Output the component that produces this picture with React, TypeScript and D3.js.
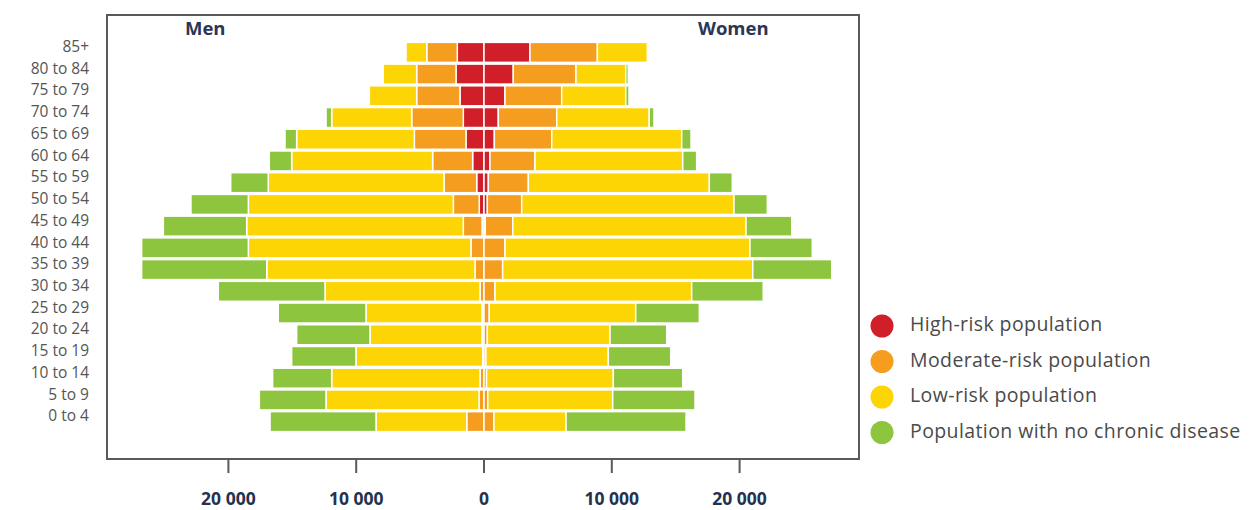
import React from "react";
import * as d3 from "d3";

// Age groups, oldest at the top
const ageGroups = [
  "85+", "80 to 84", "75 to 79", "70 to 74", "65 to 69", "60 to 64",
  "55 to 59", "50 to 54", "45 to 49", "40 to 44", "35 to 39", "30 to 34",
  "25 to 29", "20 to 24", "15 to 19", "10 to 14", "5 to 9", "0 to 4",
];

// Men, by risk category (persons)
const menHigh = [2090, 2190, 1880, 1620, 1410, 890, 570, 370, 150, 0, 0, 0, 0, 0, 0, 0, 0, 0];
const menModerate = [2390, 3080, 3390, 4040, 4040, 3130, 2560, 2030, 1470, 1020, 700, 310, 150, 150, 100, 310, 390, 1350];
const menLow = [1620, 2610, 3700, 6260, 9210, 11030, 13750, 16040, 16950, 17420, 16300, 12130, 9080, 8770, 9920, 11610, 11970, 7100];
const menNone = [0, 0, 0, 440, 910, 1750, 2940, 4490, 6520, 8350, 9790, 8350, 6870, 5740, 5030, 4620, 5220, 8290];

// Women, by risk category (persons)
const womenHigh = [3600, 2290, 1640, 1120, 810, 470, 340, 260, 100, 0, 0, 0, 0, 0, 0, 0, 0, 0];
const womenModerate = [5270, 4910, 4440, 4570, 4490, 3520, 3130, 2690, 2150, 1640, 1460, 860, 410, 260, 150, 200, 300, 780];
const womenLow = [3910, 3890, 5010, 7240, 10170, 11560, 14160, 16610, 18250, 19170, 19570, 15390, 11460, 9600, 9580, 9920, 9770, 5640];
const womenNone = [0, 200, 260, 370, 730, 1090, 1800, 2610, 3580, 4880, 6180, 5600, 4980, 4440, 4880, 5430, 6440, 9390];

const categories = [
  "High-risk population",
  "Moderate-risk population",
  "Low-risk population",
  "Population with no chronic disease",
];
const colors = ["#d01f28", "#f59d1f", "#fdd404", "#8dc53e"];

const tickValues = [-20000, -10000, 0, 10000, 20000];

const W = 1250;
const H = 510;
const box = { left: 107, top: 15, right: 859, bottom: 459 };

const x = d3.scaleLinear().domain([-29500, 29500]).range([107, 861]);
const y = d3
  .scaleBand<string>()
  .domain(ageGroups)
  .range([41.5, 432.5])
  .paddingInner(0.08)
  .paddingOuter(0.04);

const fmt = d3
  .formatLocale({ decimal: ".", thousands: "\u00a0", grouping: [3], currency: ["", ""] })
  .format(",d");

type Seg = { key: string; x0: number; x1: number; y: number; color: string };

function buildSegments(series: number[][], sign: number, side: string): Seg[] {
  const rows = ageGroups.map((_, i) => {
    const o: Record<string, number> = {};
    categories.forEach((c, k) => (o[c] = series[k][i]));
    return o;
  });
  const stacked = d3.stack<Record<string, number>>().keys(categories)(rows);
  const segs: Seg[] = [];
  stacked.forEach((layer, k) => {
    layer.forEach((d, i) => {
      if (d[1] - d[0] <= 0) return;
      const a = x(sign * d[0]);
      const b = x(sign * d[1]);
      segs.push({
        key: `${side}-${k}-${i}`,
        x0: Math.min(a, b),
        x1: Math.max(a, b),
        y: y(ageGroups[i]) as number,
        color: colors[k],
      });
    });
  });
  return segs;
}

const segments = [
  ...buildSegments([menHigh, menModerate, menLow, menNone], -1, "m"),
  ...buildSegments([womenHigh, womenModerate, womenLow, womenNone], 1, "w"),
];

const font = "'Open Sans', 'DejaVu Sans', sans-serif";

export default function App() {
  const bw = y.bandwidth();
  return (
    <svg
      width={W}
      height={H}
      style={{ position: "absolute", left: 0, top: 0, display: "block", background: "#fff" }}
    >
      {/* frame */}
      <rect
        x={box.left}
        y={box.top}
        width={box.right - box.left}
        height={box.bottom - box.top}
        fill="none"
        stroke="#5a5a5a"
        strokeWidth={2}
      />

      {/* bars */}
      <g>
        {segments.map((s) => (
          <rect
            key={s.key}
            x={s.x0}
            y={s.y}
            width={s.x1 - s.x0}
            height={bw}
            fill={s.color}
            stroke="#ffffff"
            strokeWidth={1.5}
          />
        ))}
      </g>

      {/* age labels */}
      <g fontFamily={font} fontSize={15.5} fill="#555" textAnchor="end">
        {ageGroups.map((a) => (
          <text key={a} x={89} y={(y(a) as number) + bw / 2 - 4.5} dominantBaseline="middle">
            {a}
          </text>
        ))}
      </g>

      {/* x axis ticks */}
      <g>
        {tickValues.map((t) => (
          <g key={t}>
            <line x1={x(t)} x2={x(t)} y1={box.bottom} y2={box.bottom + 14} stroke="#5a5a5a" strokeWidth={2} />
            <text
              x={x(t)}
              y={500}
              textAnchor="middle"
              dominantBaseline="middle"
              fontFamily={font}
              fontWeight={700}
              fontSize={17.5}
              fill="#25314f"
            >
              {fmt(Math.abs(t))}
            </text>
          </g>
        ))}
      </g>

      {/* side titles */}
      <g fontFamily={font} fontWeight={700} fontSize={18.5} fill="#2b3657">
        <text x={185} y={30} dominantBaseline="middle">Men</text>
        <text x={698} y={30} dominantBaseline="middle">Women</text>
      </g>

      {/* legend */}
      <g fontFamily={font} fontSize={19.5} fill="#4a4a4a" letterSpacing={0.4}>
        {categories.map((c, i) => (
          <g key={c} transform={`translate(882, ${326 + i * 35.5})`}>
            <circle r={11.5} fill={colors[i]} />
            <text x={28} dominantBaseline="middle">{c}</text>
          </g>
        ))}
      </g>
    </svg>
  );
}
